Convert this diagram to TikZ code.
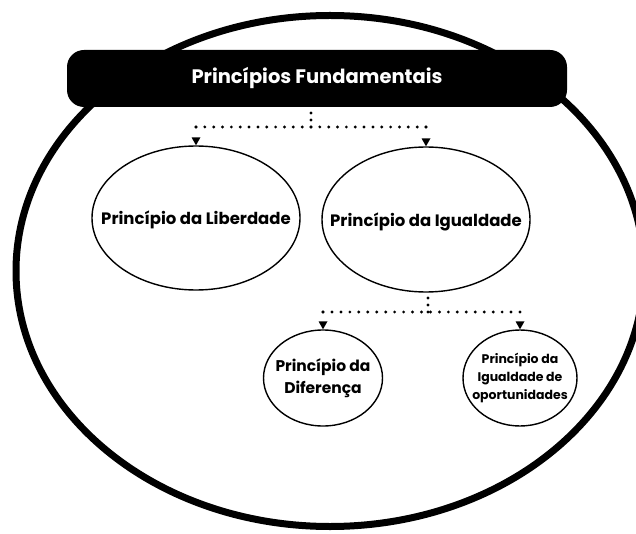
\documentclass[tikz,border=0pt]{standalone}
\usepackage{fontspec}
\setmainfont{Poppins}
\usetikzlibrary{shapes.geometric,arrows.meta}

\begin{document}
\begin{tikzpicture}[x=1pt,y=-1pt,
  bolha/.style={draw, ellipse, line width=1.4pt, inner sep=0pt},
  txt/.style={align=center, font=\bfseries\fontsize{16.5}{22}\selectfont},
  pontos/.style={line width=3.2pt, line cap=round, dash pattern=on 0pt off 8.8pt},
  seta/.style={line width=3.2pt, line cap=round, dash pattern=on 0pt off 40pt, -{Triangle[width=9pt,length=8pt,line width=0pt]}}]
\clip (0,0) rectangle (636,534);
\draw[line width=7pt] (330,271) ellipse [x radius=314pt, y radius=255.5pt];
\node[fill=black, rounded corners=17pt, minimum width=500pt, minimum height=57pt, text=white, font=\bfseries\fontsize{19.5}{24}\selectfont] (titulo) at (317,78.5) {Princípios Fundamentais};

\node[bolha, minimum width=208pt, minimum height=144pt, label={[txt, yshift=-2pt]center:Princípio da Liberdade}] (lib) at (196,218) {};
\node[bolha, minimum width=208pt, minimum height=145pt, label={[txt, yshift=-2pt]center:Princípio da Igualdade}] (igu) at (426,219.5) {};
\node[bolha, minimum width=119pt, minimum height=96pt, label={[txt, font=\bfseries\fontsize{15.5}{22}\selectfont]center:Princípio da\\Diferença}] (dif) at (323,378) {};
\node[bolha, minimum width=114pt, minimum height=96pt, label={[txt, font=\bfseries\fontsize{12.5}{18}\selectfont]center:Princípio da\\Igualdade de\\oportunidades}] (opo) at (520,378) {};

\coordinate (j1) at (311,127);
\coordinate (j2) at (428,312);
\draw[pontos, dash pattern=on 0pt off 7pt] (j1) -- (titulo.south -| j1);
\draw[pontos, dash pattern=on 0pt off 8.846pt] (j1 -| lib.north) -- (j1 -| igu.north);
\draw[seta] (j1 -| lib.north) -- (lib.north);
\draw[seta] (j1 -| igu.north) -- (igu.north);

\draw[pontos, dash pattern=on 0pt off 7pt] (j2) -- (igu.south -| j2);
\draw[pontos, dash pattern=on 0pt off 8.955pt] (j2 -| dif.north) -- (j2 -| opo.north);
\draw[seta] (j2 -| dif.north) -- (dif.north);
\draw[seta] (j2 -| opo.north) -- (opo.north);
\end{tikzpicture}
\end{document}
